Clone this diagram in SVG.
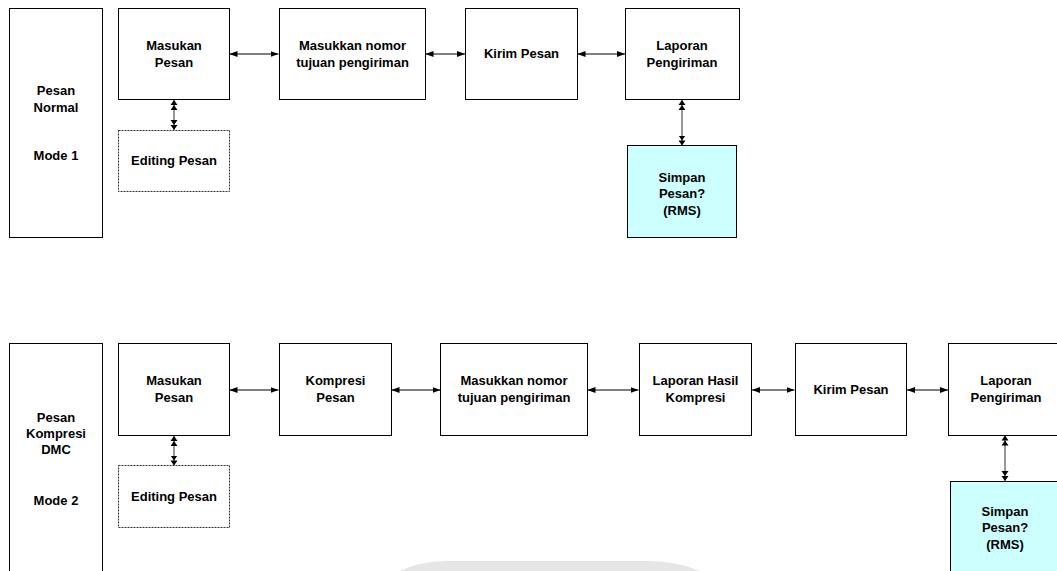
<svg xmlns="http://www.w3.org/2000/svg" width="1057" height="571" viewBox="0 0 1057 571">
<style>
.box{fill:#fff;stroke:#000;stroke-width:1}
.dash{fill:#fff;stroke:#333;stroke-width:1;stroke-dasharray:2,1}
.store{fill:#ccffff;stroke:#000;stroke-width:1}
text{font-family:"Liberation Sans",Arial,sans-serif;font-weight:bold;font-size:13px;fill:#000;text-anchor:middle}
.h{stroke:#000;stroke-width:1;fill:none;marker-start:url(#a);marker-end:url(#a)}
.v{stroke:#333;stroke-width:1;fill:none;marker-start:url(#d);marker-end:url(#d)}
</style>
<defs>
<marker id="a" viewBox="0 0 8 8" refX="8" refY="4" markerWidth="8" markerHeight="8" markerUnits="userSpaceOnUse" orient="auto-start-reverse">
<path d="M0,1 L8,4 L0,7 Z" fill="#000"/>
</marker>
<marker id="d" viewBox="0 0 10 8" refX="10" refY="4" markerWidth="10" markerHeight="8" markerUnits="userSpaceOnUse" orient="auto-start-reverse">
<path d="M0,0.5 L5,4 L0,7.5 Z M5,0.5 L10,4 L5,7.5 Z" fill="#000"/>
</marker>
</defs>
<rect width="1057" height="571" fill="#fff"/>
<path d="M400 571 Q418 562 445 561 L650 561 Q680 562 700 571 Z" fill="#e6e6e6"/>

<g id="connectors">
<line class="h" x1="229.5" y1="54" x2="278.5" y2="54"/>
<line class="h" x1="425.5" y1="54" x2="465" y2="54"/>
<line class="h" x1="577.5" y1="54" x2="625" y2="54"/>
<line class="v" x1="174" y1="100" x2="174" y2="130"/>
<line class="v" x1="682" y1="100" x2="682" y2="145.5"/>
<line class="h" x1="229.5" y1="390" x2="278.5" y2="390"/>
<line class="h" x1="391.5" y1="390" x2="440.5" y2="390"/>
<line class="h" x1="587.5" y1="390" x2="638.5" y2="390"/>
<line class="h" x1="752" y1="390" x2="794.5" y2="390"/>
<line class="h" x1="907" y1="390" x2="948" y2="390"/>
<line class="v" x1="174" y1="436" x2="174" y2="465.5"/>
<line class="v" x1="1005" y1="435.5" x2="1005" y2="481"/>
</g>

<g id="mode1">
<rect class="box" x="9.5" y="8.5" width="93" height="229"/>
<text x="56" y="95">Pesan</text>
<text x="56" y="112">Normal</text>
<text x="56" y="160">Mode 1</text>
</g>
<g id="masukan1">
<rect class="box" x="118.5" y="8.5" width="111" height="91"/>
<text x="174" y="50">Masukan</text>
<text x="174" y="67">Pesan</text>
</g>
<g id="editing1">
<rect class="dash" x="118.5" y="130.5" width="111" height="61"/>
<text x="174" y="165">Editing Pesan</text>
</g>
<g id="nomor1">
<rect class="box" x="279.5" y="8.5" width="146" height="91"/>
<text x="352.5" y="50">Masukkan nomor</text>
<text x="352.5" y="67">tujuan pengiriman</text>
</g>
<g id="kirim1">
<rect class="box" x="465.5" y="8.5" width="112" height="91"/>
<text x="521.5" y="58">Kirim Pesan</text>
</g>
<g id="laporan1">
<rect class="box" x="625.5" y="8.5" width="114" height="91"/>
<text x="682" y="50">Laporan</text>
<text x="682" y="67">Pengiriman</text>
</g>
<g id="simpan1">
<rect class="store" x="627.5" y="145.5" width="109" height="92"/>
<text x="682" y="182">Simpan</text>
<text x="682" y="198">Pesan?</text>
<text x="682" y="215">(RMS)</text>
</g>

<g id="mode2">
<rect class="box" x="9.5" y="343.5" width="93" height="240"/>
<text x="56" y="422">Pesan</text>
<text x="56" y="438">Kompresi</text>
<text x="56" y="454">DMC</text>
<text x="56" y="505">Mode 2</text>
</g>
<g id="masukan2">
<rect class="box" x="118.5" y="343.5" width="111" height="92"/>
<text x="174" y="385">Masukan</text>
<text x="174" y="402">Pesan</text>
</g>
<g id="editing2">
<rect class="dash" x="118.5" y="465.5" width="111" height="62"/>
<text x="174" y="501">Editing Pesan</text>
</g>
<g id="kompresi2">
<rect class="box" x="279.5" y="343.5" width="112" height="92"/>
<text x="335.5" y="385">Kompresi</text>
<text x="335.5" y="402">Pesan</text>
</g>
<g id="nomor2">
<rect class="box" x="440.5" y="343.5" width="147" height="92"/>
<text x="514" y="385">Masukkan nomor</text>
<text x="514" y="402">tujuan pengiriman</text>
</g>
<g id="hasil2">
<rect class="box" x="639.5" y="343.5" width="112" height="92"/>
<text x="695.5" y="385">Laporan Hasil</text>
<text x="695.5" y="402">Kompresi</text>
</g>
<g id="kirim2">
<rect class="box" x="795.5" y="343.5" width="111" height="92"/>
<text x="851" y="394">Kirim Pesan</text>
</g>
<g id="laporan2">
<rect class="box" x="948.5" y="343.5" width="117" height="92"/>
<text x="1006" y="385">Laporan</text>
<text x="1006" y="402">Pengiriman</text>
</g>
<g id="simpan2">
<rect class="store" x="950.5" y="481.5" width="110" height="100"/>
<text x="1005" y="516">Simpan</text>
<text x="1005" y="532">Pesan?</text>
<text x="1005" y="549">(RMS)</text>
</g>
</svg>
